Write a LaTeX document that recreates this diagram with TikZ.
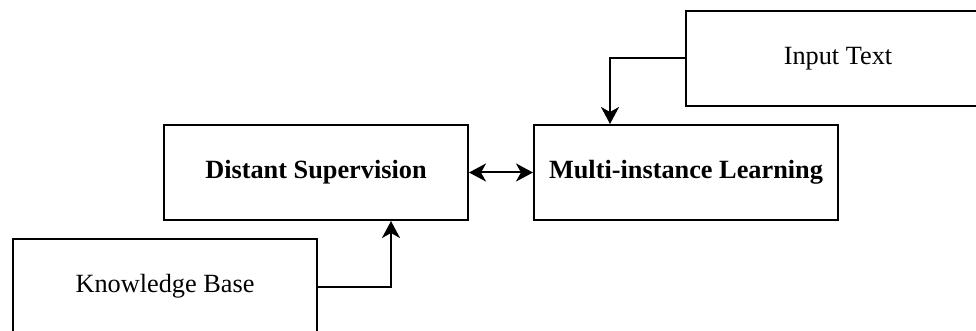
\documentclass[tikz,border=0pt]{standalone}
\usepackage{fontspec}
\setmainfont{Liberation Serif}
\usetikzlibrary{arrows.meta}
\begin{document}
\begin{tikzpicture}[x=1pt,y=-1pt,
  box/.style={draw, line width=2pt, minimum width=304pt, minimum height=95pt,
    inner sep=0pt, anchor=north west, font=\fontsize{26.3}{31}\selectfont},
  tip/.tip={Stealth[length=17pt,width=18pt,inset=5pt]},
  link/.style={line width=2pt, -tip}]
\useasboundingbox (0,0) rectangle (976,331);
% the four boxes
\node[box] (input) at (685,10) {Input Text};
\node[box] (ds) at (163,124) {\bfseries Distant Supervision};
\node[box] (mil) at (533,124) {\bfseries Multi-instance Learning};
\node[box] (kb) at (12,238) {Knowledge Base};
% connectors
\draw[link] (input.west) -| ([xshift=-76pt]mil.north);
\draw[link] (kb.east) -| ([xshift=75pt]ds.south);
\draw[link, tip-tip] (ds.east) -- (mil.west);
\end{tikzpicture}
\end{document}
